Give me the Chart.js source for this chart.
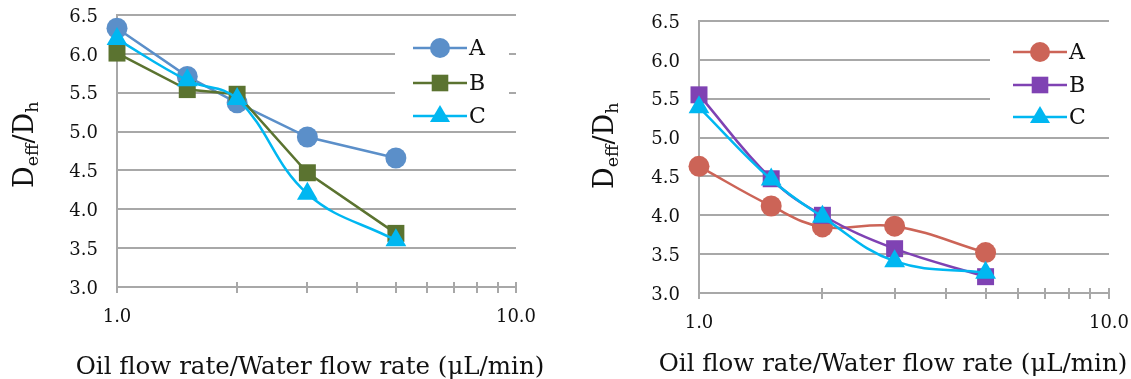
<!DOCTYPE html>
<html>
<head>
<meta charset="utf-8">
<script src="https://cdn.jsdelivr.net/npm/chart.js@4/dist/chart.umd.min.js"></script>
<style>
  body { margin: 0; background: #fff; }
  #wrap { position: relative; width: 1131px; height: 379px; overflow: hidden; font-family: "DejaVu Serif", serif; color: #111; }
  canvas { position: absolute; top: 0; }
  .xt { position: absolute; font-size: 24.5px; line-height: 1; white-space: nowrap; transform: translateX(-50%); }
  .yt { position: absolute; font-size: 27px; line-height: 1; white-space: nowrap; transform-origin: 0 0; transform: rotate(-90deg); }
  .yt sub { font-size: 65%; vertical-align: -0.3em; }
</style>
</head>
<body>
<div id="wrap">
  <canvas id="left" width="560" height="379" style="left:0"></canvas>
  <canvas id="right" width="566" height="379" style="left:565px"></canvas>
  <div class="xt" style="left:310px; top:354px">Oil flow rate/Water flow rate (μL/min)</div>
  <div class="xt" style="left:893px; top:351px">Oil flow rate/Water flow rate (μL/min)</div>
  <div class="yt" style="left:10px; top:188px">D<sub>eff</sub>/D<sub>h</sub></div>
  <div class="yt" style="left:590px; top:189px">D<sub>eff</sub>/D<sub>h</sub></div>
</div>
<script>
// flow rate ratios (x, log axis)
const flowRatio = [1, 1.5, 2, 3, 5];
const seriesNames = ['A', 'B', 'C'];

// left panel
const leftA = [6.33, 5.71, 5.37, 4.93, 4.66];
const leftB = [6.01, 5.54, 5.48, 4.47, 3.69];
const leftC = [6.19, 5.66, 5.42, 4.20, 3.60];

// right panel
const rightA = [4.63, 4.12, 3.85, 3.86, 3.52];
const rightB = [5.55, 4.47, 4.00, 3.57, 3.21];
const rightC = [5.39, 4.46, 3.98, 3.41, 3.26];

const xTicks = [1, 2, 3, 4, 5, 6, 7, 8, 9, 10];
const yTicks = [3.0, 3.5, 4.0, 4.5, 5.0, 5.5, 6.0, 6.5];

const gridColor = '#a8a8a8';
const tickFont = { family: 'DejaVu Serif', size: 18 };

function toPoints(ys) {
    return ys.map((y, i) => ({ x: flowRatio[i], y: y }));
}

function makeDataset(label, ys, color, style, radius, tension, order) {
    return {
        label: label,
        data: toPoints(ys),
        borderColor: color,
        backgroundColor: color,
        borderWidth: 2.5,
        pointStyle: style,
        pointRadius: radius,
        pointHoverRadius: radius,
        pointBorderWidth: 0,
        tension: tension,
        order: order,
        clip: false
    };
}

// own legend: white box over the grid, then line + marker + letter
function legendPlugin(cfg) {
    return {
        id: 'boxLegend',
        afterDraw(chart) {
            const ctx = chart.ctx;
            ctx.save();
            ctx.fillStyle = '#fff';
            ctx.fillRect(cfg.box[0], cfg.box[1], cfg.box[2], cfg.box[3]);
            chart.data.datasets.forEach((ds, i) => {
                const y = cfg.rows[i];
                ctx.strokeStyle = ds.borderColor;
                ctx.lineWidth = 2.5;
                ctx.beginPath();
                ctx.moveTo(cfg.x0, y);
                ctx.lineTo(cfg.x1, y);
                ctx.stroke();
                const mx = (cfg.x0 + cfg.x1) / 2;
                ctx.fillStyle = ds.backgroundColor;
                ctx.beginPath();
                if (ds.pointStyle === 'circle') {
                    ctx.arc(mx, y, 10, 0, Math.PI * 2);
                } else if (ds.pointStyle === 'rect') {
                    ctx.rect(mx - 8.3, y - 8.3, 16.6, 16.6);
                } else {
                    ctx.moveTo(mx, y - 11);
                    ctx.lineTo(mx + 10, y + 6);
                    ctx.lineTo(mx - 10, y + 6);
                    ctx.closePath();
                }
                ctx.fill();
                ctx.fillStyle = '#111';
                ctx.font = '22px "DejaVu Serif"';
                ctx.textBaseline = 'middle';
                ctx.textAlign = 'left';
                ctx.fillText(ds.label, cfg.x1 + 2, y + 1);
            });
            ctx.restore();
        }
    };
}

// small tick marks crossing the x axis at 1..10
const crossTicks = {
    id: 'crossTicks',
    afterDraw(chart) {
        const sx = chart.scales.x;
        const bottom = chart.chartArea.bottom;
        const ctx = chart.ctx;
        ctx.save();
        ctx.strokeStyle = gridColor;
        ctx.lineWidth = 2;
        sx.ticks.forEach(t => {
            const px = Math.round(sx.getPixelForValue(t.value));
            ctx.beginPath();
            ctx.moveTo(px, bottom - 5);
            ctx.lineTo(px, bottom + 6);
            ctx.stroke();
        });
        ctx.restore();
    }
};

function createChart(id, datasets, geom, legendCfg) {
    return new Chart(document.getElementById(id), {
        type: 'line',
        data: { datasets: datasets },
        options: {
            responsive: false,
            animation: false,
            devicePixelRatio: 1,
            layout: { autoPadding: false, padding: { left: 0, top: geom.top, right: geom.right, bottom: 0 } },
            plugins: { legend: { display: false }, tooltip: { enabled: false } },
            scales: {
                x: {
                    type: 'logarithmic',
                    min: 1,
                    max: 10,
                    afterBuildTicks: s => { s.ticks = xTicks.map(v => ({ value: v })); },
                    afterFit: s => { s.height = geom.xh; s.paddingLeft = 0; s.paddingRight = 0; },
                    grid: { display: false, drawTicks: false },
                    border: { display: true, color: gridColor, width: 2 },
                    ticks: {
                        autoSkip: false,
                        maxRotation: 0,
                        padding: 20,
                        color: '#111',
                        font: tickFont,
                        callback: v => (v === 1 || v === 10) ? v.toFixed(1) : ''
                    }
                },
                y: {
                    min: 3,
                    max: 6.5,
                    afterBuildTicks: s => { s.ticks = yTicks.map(v => ({ value: v })); },
                    afterFit: s => { s.width = geom.yw; s.paddingTop = 0; s.paddingBottom = 0; },
                    grid: { color: gridColor, lineWidth: 2, drawTicks: false },
                    border: { display: true, color: gridColor, width: 2 },
                    ticks: {
                        padding: 19,
                        labelOffset: 2,
                        color: '#111',
                        font: tickFont,
                        callback: v => Number(v).toFixed(1)
                    }
                }
            }
        },
        plugins: [crossTicks, legendPlugin(legendCfg)]
    });
}

createChart('left', [
    makeDataset(seriesNames[0], leftA, '#5b8fc9', 'circle', 10.5, 0, 3),
    makeDataset(seriesNames[1], leftB, '#5b7330', 'rect', 12, 0, 2),
    makeDataset(seriesNames[2], leftC, '#00b7f1', 'triangle', 12, 0.4, 1)
], { top: 15, right: 44, yw: 117, xh: 92 },
   { box: [395, 26, 114, 98], rows: [48, 83, 116], x0: 413, x1: 467 });

createChart('right', [
    makeDataset(seriesNames[0], rightA, '#cc6457', 'circle', 10.5, 0.4, 3),
    makeDataset(seriesNames[1], rightB, '#7f42b3', 'rect', 12, 0.4, 2),
    makeDataset(seriesNames[2], rightC, '#00b7f1', 'triangle', 12, 0.4, 1)
], { top: 21, right: 22, yw: 134, xh: 86 },
   { box: [425, 28, 141, 98], rows: [52, 85, 117], x0: 448, x1: 502 });
</script>
</body>
</html>
